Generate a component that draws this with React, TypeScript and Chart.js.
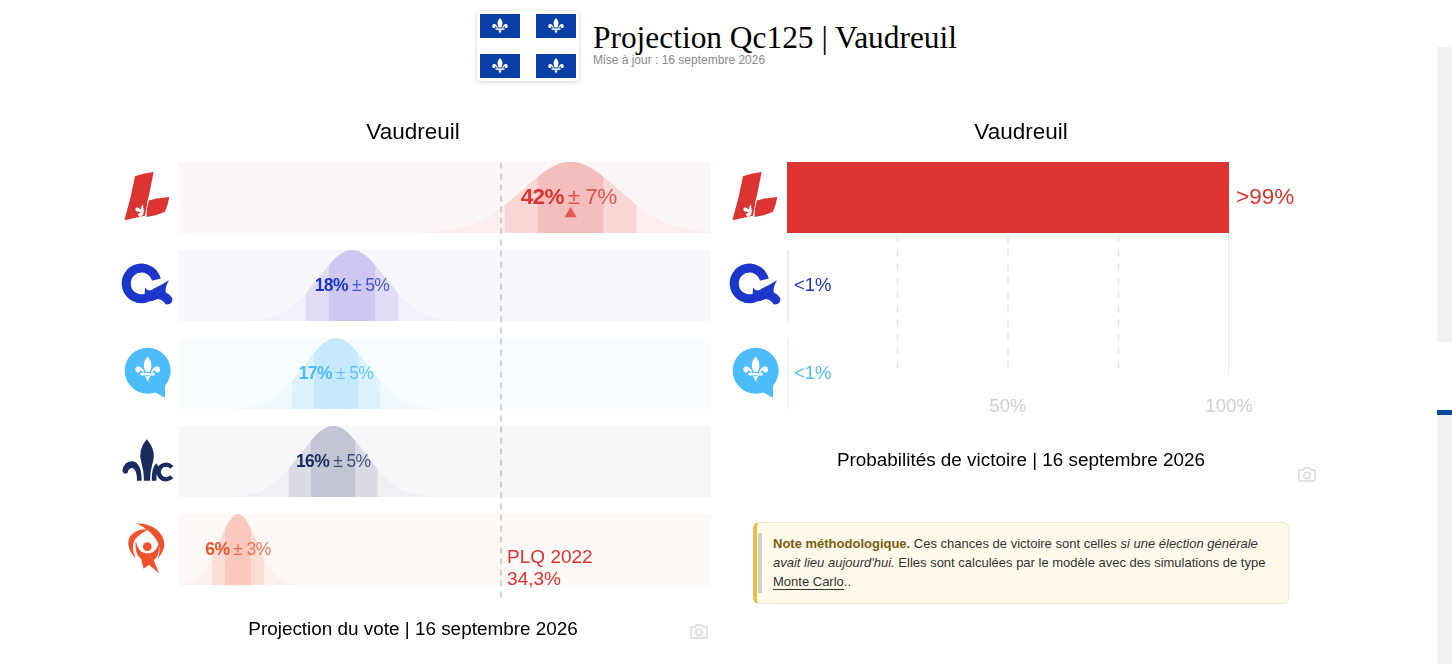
import { useEffect, useRef } from 'react';
import { Chart, registerables } from 'chart.js';

Chart.register(...registerables);

const SANS = '"Liberation Sans", Arial, sans-serif';

const partyNames = ['PLQ', 'PQ', 'CAQ', 'PCQ', 'QS'];
const partyColors = ['#dc3430', '#1c36c9', '#4cbcfb', '#1a2b5e', '#f0522c'];
const partyFillRgb = ['220,52,48', '100,80,215', '76,188,251', '65,75,120', '240,82,44'];

const voteLabels = ['42%', '18%', '17%', '16%', '6%'];
const marginLabels = ['± 7%', '± 5%', '± 5%', '± 5%', '± 3%'];
const voteFontSizes = [22.5, 17.5, 17.5, 17.5, 17.5];

// densité relative
const density = [0.009, 0.023, 0.056, 0.12, 0.23, 0.39, 0.59, 0.79, 0.943, 1, 0.943, 0.79, 0.59, 0.39, 0.23, 0.12, 0.056, 0.023, 0.009];
const plqX = [25.86, 27.62, 29.38, 31.14, 32.9, 34.66, 36.42, 38.18, 39.94, 41.7, 43.46, 45.22, 46.98, 48.74, 50.5, 52.26, 54.02, 55.78, 57.54];
const pqX = [7.4, 8.62, 9.85, 11.07, 12.3, 13.52, 14.75, 15.97, 17.2, 18.42, 19.65, 20.87, 22.1, 23.32, 24.55, 25.77, 27.0, 28.22, 29.45];
const caqX = [6.19, 7.36, 8.53, 9.7, 10.87, 12.04, 13.21, 14.38, 15.55, 16.72, 17.89, 19.06, 20.23, 21.4, 22.57, 23.74, 24.91, 26.08, 27.25];
const pcqX = [5.71, 6.9, 8.09, 9.28, 10.47, 11.66, 12.85, 14.04, 15.23, 16.42, 17.61, 18.8, 19.99, 21.18, 22.37, 23.56, 24.75, 25.94, 27.13];
const qsX = [0.07, 0.76, 1.45, 2.14, 2.83, 3.52, 4.21, 4.9, 5.59, 6.28, 6.97, 7.66, 8.35, 9.04, 9.73, 10.42, 11.11, 11.8, 12.49];
const curvesX = [plqX, pqX, caqX, pcqX, qsX];

const voteAxisMax = 56.65;
const previousVote = 34.3;
const previousLabels = ['PLQ 2022', '34,3%'];

const winParties = ['PLQ', 'PQ', 'CAQ'];
const winValues = [100, 0.45, 0.45];
const winLabels = ['>99%', '<1%', '<1%'];
const winBarColors = ['#dc3430', '#e8e9fa', '#e6f6fe'];
const winGridTicks = [25, 50, 75];
const winTickLabels = [50, 100];

const textPlugin = {
  id: 'voteText',
  afterDatasetsDraw(chart: any) {
    const { ctx } = chart;
    const x = chart.scales.x;
    ctx.save();
    ctx.textBaseline = 'middle';
    voteLabels.forEach((label, i) => {
      const size = voteFontSizes[i];
      const cx = x.getPixelForValue(curvesX[i][9]) - (i === 0 ? 2 : 0);
      const cy = chart.scales['y' + i].getPixelForValue(i === 0 ? 0.5 : 0.49);
      ctx.letterSpacing = '-0.6px';
      ctx.font = `bold ${size}px ${SANS}`;
      const w1 = ctx.measureText(label).width;
      ctx.font = `${size}px ${SANS}`;
      const w2 = ctx.measureText(marginLabels[i]).width;
      const left = cx - (w1 + w2 + 4) / 2;
      ctx.textAlign = 'left';
      ctx.font = `bold ${size}px ${SANS}`;
      ctx.fillStyle = partyColors[i];
      ctx.fillText(label, left, cy);
      ctx.font = `${size}px ${SANS}`;
      ctx.globalAlpha = 0.78;
      ctx.fillText(marginLabels[i], left + w1 + 4, cy);
      ctx.globalAlpha = 1;
    });
    ctx.letterSpacing = '0px';
    ctx.font = `19px ${SANS}`;
    ctx.fillStyle = partyColors[0];
    ctx.textAlign = 'left';
    const px = x.getPixelForValue(previousVote) + 6;
    ctx.fillText(previousLabels[0], px, chart.scales.y4.getPixelForValue(0.38));
    ctx.fillText(previousLabels[1], px, chart.scales.y4.getPixelForValue(0.08));
    ctx.restore();
  },
};

const winTextPlugin = {
  id: 'winText',
  afterDatasetsDraw(chart: any) {
    const { ctx } = chart;
    const meta = chart.getDatasetMeta(chart.data.datasets.length - 1);
    ctx.save();
    ctx.textAlign = 'left';
    ctx.textBaseline = 'middle';
    winLabels.forEach((label, i) => {
      const bar = meta.data[i];
      ctx.font = `${i === 0 ? 22.5 : 18.5}px ${SANS}`;
      ctx.fillStyle = partyColors[i];
      ctx.fillText(label, bar.x + (i === 0 ? 7 : 5), bar.y);
    });
    ctx.restore();
  },
};

// axe sans aucun tracé, il ne sert qu'à réserver la marge des logos
const marginAxis = (width: number) => ({
  ticks: { display: false },
  grid: { display: false },
  border: { display: false },
  afterFit: (s: any) => { s.width = width; },
});

function VoteChart() {
  const ref = useRef<HTMLCanvasElement>(null);
  useEffect(() => {
    if (!ref.current) return;
    const datasets: any[] = [];
    const scales: any = {
      x: { type: 'linear', min: 0, max: voteAxisMax, display: false },
      yRule: { type: 'linear', min: 0, max: 1, ...marginAxis(71) },
    };
    partyNames.forEach((name, i) => {
      const axis = 'y' + i;
      const points = curvesX[i].map((x, k) => ({ x, y: density[k] }));
      const line = { yAxisID: axis, showLine: true, pointRadius: 0, borderWidth: 0, tension: 0.4 };
      const fill = (a: number) => `rgba(${partyFillRgb[i]},${a})`;
      datasets.push({ ...line, label: name + ' fond', tension: 0, data: [{ x: 0, y: 1 }, { x: voteAxisMax, y: 1 }], fill: { value: 0 }, backgroundColor: fill(0.044) });
      datasets.push({ ...line, label: name, data: points, fill: { value: 0 }, backgroundColor: fill(0.04) });
      datasets.push({ ...line, label: name + ' 90', data: points.slice(5, 14), fill: { value: 0 }, backgroundColor: fill(0.125) });
      datasets.push({ ...line, label: name + ' 50', data: points.slice(7, 12), fill: { value: 0 }, backgroundColor: fill(0.155) });
    });
    datasets.push({
      label: 'Tendance', yAxisID: 'y0', showLine: false, data: [{ x: plqX[9], y: 0.27 }],
      pointStyle: 'triangle', pointRadius: 7, pointBackgroundColor: 'rgba(220,52,48,0.75)', pointBorderWidth: 0,
    });
    datasets.push({
      label: 'PLQ 2022', yAxisID: 'yRule', showLine: true, pointRadius: 0, borderWidth: 2, borderColor: '#d2d2d2', borderDash: [6, 5],
      data: [{ x: previousVote, y: 0.01 }, { x: previousVote, y: 1 }],
    });
    // dernier défini = placé en haut de la pile
    [4, 3, 2, 1, 0].forEach((i) => {
      scales['y' + i] = { type: 'linear', min: -0.2394, max: 1, display: false, stack: 'rows', stackWeight: 1 };
    });
    const chart = new Chart(ref.current, {
      type: 'scatter',
      data: { datasets },
      plugins: [textPlugin],
      options: {
        animation: false,
        responsive: false,
        scales,
        plugins: {
          legend: { display: false },
          tooltip: { enabled: false },
          title: { display: true, text: 'Vaudreuil', color: '#000', font: { family: SANS, size: 22.5, weight: 'normal' }, padding: { top: 4, bottom: 16 } },
          subtitle: { display: true, position: 'bottom', text: 'Projection du vote | 16 septembre 2026', color: '#000', font: { family: SANS, size: 18.9, weight: 'normal' }, padding: { top: 16.65, bottom: 2.65 } },
        },
      },
    } as any);
    return () => chart.destroy();
  }, []);
  return <canvas ref={ref} width={610} height={529} style={{ position: 'absolute', left: 108, top: 115 }} />;
}

function WinChart() {
  const ref = useRef<HTMLCanvasElement>(null);
  useEffect(() => {
    if (!ref.current) return;
    const gridLine = { type: 'scatter', yAxisID: 'yGrid', showLine: true, pointRadius: 0, order: 2 };
    const chart = new Chart(ref.current, {
      type: 'bar',
      data: {
        labels: winParties,
        datasets: [
          ...winGridTicks.map((t) => ({ ...gridLine, label: t + '%', borderColor: '#e4e4e4', borderWidth: 1.5, borderDash: [7, 7], data: [{ x: t, y: 0 }, { x: t, y: 0.865 }] })),
          { ...gridLine, label: '100%', borderColor: '#e6e6e6', borderWidth: 1.5, data: [{ x: 100, y: 0 }, { x: 100, y: 0.872 }] },
          { label: 'Probabilité', data: winValues, backgroundColor: winBarColors, barPercentage: 0.807, categoryPercentage: 1, grouped: false, order: 1 },
        ],
      } as any,
      plugins: [winTextPlugin],
      options: {
        indexAxis: 'y',
        animation: false,
        responsive: false,
        scales: {
          x: {
            type: 'linear', min: 0, max: 100,
            grid: { display: false, drawTicks: false },
            border: { display: false },
            afterFit: (s: any) => { s.height = 0; },
            ticks: {
              mirror: true, stepSize: 25, padding: 0, autoSkip: false, maxRotation: 0, color: '#cfcfcf', font: { family: SANS, size: 18.5 },
              callback: (v: any) => (winTickLabels.includes(v) ? v + '%' : ''),
            },
          },
          y: { type: 'category', position: 'right', ...marginAxis(83) },
          yGrid: { type: 'linear', min: 0, max: 1, reverse: true, position: 'left', ...marginAxis(57) },
        },
        plugins: {
          legend: { display: false },
          tooltip: { enabled: false },
          title: { display: true, text: 'Vaudreuil', color: '#000', font: { family: SANS, size: 22.5, weight: 'normal' }, padding: { top: 4, bottom: 7.5 } },
          subtitle: { display: true, position: 'bottom', text: 'Probabilités de victoire | 16 septembre 2026', color: '#000', font: { family: SANS, size: 18.9, weight: 'normal' }, padding: { top: 32.15, bottom: 2.65 } },
        },
      },
    } as any);
    return () => chart.destroy();
  }, []);
  return <canvas ref={ref} width={582} height={360} style={{ position: 'absolute', left: 730, top: 115 }} />;
}

// Dessin de fleur de lys, unités 0-100
function Fleur({ x, y, w, h, color }: { x: number; y: number; w: number; h: number; color: string }) {
  return (
    <svg x={x} y={y} width={w} height={h} viewBox="0 0 100 100" fill={color}>
      <path d="M50 0C66 16 70 36 58 60L42 60C30 36 34 16 50 0Z" />
      <path d="M38 66C32 44 14 30 4 42C-4 54 6 70 20 60C16 50 26 52 32 66Z" />
      <path d="M62 66C68 44 86 30 96 42C104 54 94 70 80 60C84 50 74 52 68 66Z" />
      <rect x="22" y="65" width="56" height="9" />
      <path d="M40 77L60 77L50 98Z" />
    </svg>
  );
}

function Logo({ x, y, children }: { x: number; y: number; children: any }) {
  return (
    <svg width={65} height={65} viewBox="0 0 195 195" style={{ position: 'absolute', left: x, top: y }}>
      {children}
    </svg>
  );
}

function PlqLogo({ x, y }: { x: number; y: number }) {
  return (
    <Logo x={x} y={y}>
      <path fill="#dc3430" d="M60 34Q88 24 116 21L102 90Q96 112 94 130L90 152L28 166Q48 100 60 34Z" />
      <path fill="#dc3430" d="M103 106Q130 98 163 96Q158 122 150 140Q125 152 95 156Q94 125 103 106Z" />
      <path fill="#fff" d="M84 118Q76 126 78 134Q68 124 62 130Q58 138 68 140L78 141L70 146Q68 156 78 155Q88 150 86 136Z" />
    </Logo>
  );
}

function QLogo({ x, y }: { x: number; y: number }) {
  return (
    <Logo x={x} y={y}>
      <path fill="none" stroke="#1c36c9" strokeWidth="27" d="M124 74A46 46 0 1 0 94 129" />
      <path fill="#1c36c9" d="M90 98Q102 114 118 100Q136 92 162 76Q150 96 152 112Q164 118 172 130Q174 150 152 148Q144 134 128 132Q108 142 88 142Z" />
    </Logo>
  );
}

function CaqLogo({ x, y }: { x: number; y: number }) {
  return (
    <Logo x={x} y={y}>
      <circle cx="98" cy="92" r="69" fill="#4cbcfb" />
      <path fill="#4cbcfb" d="M108 150L150 173L150 118Z" />
      <svg>
        <Fleur x={58} y={50} w={80} h={76} color="#fff" />
      </svg>
    </Logo>
  );
}

function PcqLogo({ x, y }: { x: number; y: number }) {
  return (
    <Logo x={x} y={y}>
      <path fill="#1a2b5e" d="M95 28Q126 62 112 102Q105 125 105 152L87 152Q87 125 80 102Q66 62 95 28Z" />
      <path fill="#1a2b5e" d="M22 122Q28 92 54 94Q80 100 80 152L66 152Q66 118 52 114Q40 114 38 128Q26 136 22 122Z" />
      <path fill="#1a2b5e" d="M110 152Q110 112 124 100L132 112Q124 125 124 152Z" />
      <path fill="none" stroke="#1a2b5e" strokeWidth="13" d="M170 112A22 22 0 1 0 170 140" />
    </Logo>
  );
}

function QsLogo({ x, y }: { x: number; y: number }) {
  return (
    <Logo x={x} y={y}>
      <path fill="#f0522c" d="M64 16Q130 18 146 66Q154 94 128 122Q142 88 122 62Q100 32 64 16Z" />
      <path fill="#f0522c" d="M102 34Q60 30 42 60Q32 90 62 122Q44 78 66 58Q80 44 102 34Z" />
      <circle cx="97" cy="86" r="13" fill="#f0522c" />
      <path fill="#f0522c" d="M62 68Q70 104 92 106L106 106Q124 100 132 76Q134 118 116 126L132 166L102 140L86 152L78 122Q58 108 62 68Z" />
    </Logo>
  );
}

function Camera({ x, y }: { x: number; y: number }) {
  return (
    <svg width={18} height={15} viewBox="0 0 18 15" fill="none" stroke="#d6d6d6" strokeWidth="1.4" style={{ position: 'absolute', left: x, top: y }}>
      <path d="M1 4Q1 3 2 3L5 3L6.5 1L11.5 1L13 3L16 3Q17 3 17 4L17 13Q17 14 16 14L2 14Q1 14 1 13Z" />
      <circle cx="9" cy="8.3" r="3.2" />
    </svg>
  );
}

export default function App() {
  const flagCells = [[480, 14], [536, 14], [480, 54], [536, 54]];
  return (
    <div style={{ position: 'absolute', left: 0, top: 0, width: 1452, height: 664, overflow: 'hidden', background: '#fff', fontFamily: SANS }}>
      {/* drapeau */}
      <div style={{ position: 'absolute', left: 477, top: 11, width: 102, height: 70, background: '#fff', borderRadius: 2, boxShadow: '0 1px 4px rgba(0,0,0,0.18)' }} />
      <svg width={102} height={70} style={{ position: 'absolute', left: 477, top: 11 }} viewBox="477 11 102 70">
        {flagCells.map(([fx, fy]) => (
          <g key={fx + '-' + fy}>
            <rect x={fx} y={fy} width={40} height={24} fill="#0a3fa8" />
            <Fleur x={fx + 12} y={fy + 3} w={16} h={18} color="#fff" />
          </g>
        ))}
      </svg>
      <div style={{ position: 'absolute', left: 593, top: 19, fontFamily: '"Liberation Serif", serif', fontSize: 31.4, lineHeight: '37px', color: '#000', whiteSpace: 'nowrap' }}>
        Projection Qc125 | Vaudreuil
      </div>
      <div style={{ position: 'absolute', left: 593, top: 53, fontSize: 12, lineHeight: '15px', color: '#8a8a8a', whiteSpace: 'nowrap' }}>
        Mise à jour : 16 septembre 2026
      </div>

      <VoteChart />
      <WinChart />

      <PlqLogo x={115} y={165} />
      <QLogo x={115} y={255} />
      <CaqLogo x={115} y={340} />
      <PcqLogo x={115} y={430} />
      <QsLogo x={115} y={518} />
      <PlqLogo x={723} y={165} />
      <QLogo x={723} y={255} />
      <CaqLogo x={723} y={340} />

      <Camera x={690} y={624} />
      <Camera x={1298} y={467} />

      {/* note */}
      <div style={{ position: 'absolute', left: 753, top: 522, width: 536, height: 82, boxSizing: 'border-box', background: '#fffaea', border: '1px solid #eee6cc', borderLeft: '4px solid #e8bf4a', borderRadius: 6 }} />
      <div style={{ position: 'absolute', left: 758, top: 533, width: 4, height: 60, background: '#d4d2c8' }} />
      <div style={{ position: 'absolute', left: 773, top: 534, width: 510, fontSize: 13, lineHeight: '19px', color: '#333', whiteSpace: 'nowrap' }}>
        <b style={{ color: '#7a5c10' }}>Note méthodologique.</b> Ces chances de victoire sont celles <i>si une élection générale</i>
        <br />
        <i>avait lieu aujourd'hui.</i> Elles sont calculées par le modèle avec des simulations de type
        <br />
        <span style={{ borderBottom: '1px solid #333' }}>Monte Carlo</span>..
      </div>

      {/* barre de défilement */}
      <div style={{ position: 'absolute', left: 1437, top: 47, width: 15, height: 295, background: '#f1f1f1' }} />
      <div style={{ position: 'absolute', left: 1437, top: 410, width: 15, height: 5, background: '#0b4a96' }} />
      <div style={{ position: 'absolute', left: 1437, top: 415, width: 15, height: 249, background: '#f1f1f1' }} />
    </div>
  );
}
